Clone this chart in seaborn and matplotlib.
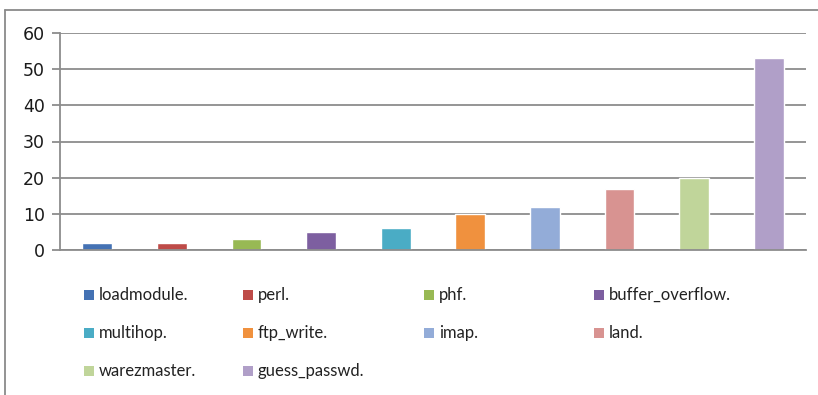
import matplotlib
matplotlib.use("Agg")
import matplotlib.pyplot as plt
from matplotlib.patches import Rectangle
import seaborn as sns
import pandas as pd

categories = ["loadmodule.", "perl.", "phf.", "buffer_overflow.", "multihop.",
              "ftp_write.", "imap.", "land.", "warezmaster.", "guess_passwd."]
counts = [2, 2, 3, 5, 6, 10, 12, 17, 20, 53]
colors = ["#4472B4", "#BE4B48", "#98B954", "#7D5FA0", "#4AACC5",
          "#F0913E", "#93ACD8", "#D89391", "#C0D59A", "#B09FC8"]
yticks = [0, 10, 20, 30, 40, 50, 60]

df = pd.DataFrame({"attack": categories, "count": counts})

sns.set_theme(style="white")
plt.rcParams["font.family"] = ["DejaVu Sans"]

W, H = 818, 395
fig = plt.figure(figsize=(W / 100, H / 100), dpi=100)
fig.patch.set_facecolor("white")

# outer chart frame (left and top edges visible)
fig.add_artist(plt.Line2D([5 / W, 5 / W], [0, 1 - 10 / H], transform=fig.transFigure,
                          color="#8a8a8a", lw=1.3))
fig.add_artist(plt.Line2D([5 / W, 1], [1 - 10 / H, 1 - 10 / H], transform=fig.transFigure,
                          color="#8a8a8a", lw=1.3))

ax = fig.add_axes([60 / W, 1 - 250 / H, (806 - 60) / W, (250 - 33) / H])
sns.barplot(data=df, x="attack", y="count", hue="attack", palette=colors,
            width=0.4, legend=False, ax=ax, saturation=1)

ax.set_ylim(0, 60)
ax.set_xlim(-0.5, len(categories) - 0.5)
ax.set_yticks(yticks)
ax.set_yticklabels([str(v) for v in yticks], fontsize=12.5, color="#1a1a1a")
ax.set_xticks([])
ax.set_xlabel("")
ax.set_ylabel("")
ax.yaxis.grid(True, color="#8c8c8c", lw=1.3)
ax.set_axisbelow(True)
for s in ["top", "right"]:
    ax.spines[s].set_visible(False)
ax.spines["left"].set_color("#8c8c8c")
ax.spines["left"].set_linewidth(1.3)
ax.spines["bottom"].set_color("#8c8c8c")
ax.spines["bottom"].set_linewidth(1.3)
ax.tick_params(axis="y", which="major", left=True, direction="out", length=6,
               width=1.3, color="#8c8c8c", pad=5)
ax.set_facecolor("white")

# legend laid out in four columns below the plot
col_x = [84, 243, 424, 594]
row_y = [295, 333, 371]
for i, (name, c) in enumerate(zip(categories, colors)):
    r, k = divmod(i, 4)
    x0, y0 = col_x[k], row_y[r]
    fig.add_artist(Rectangle((x0 / W, 1 - (y0 + 5) / H), 10 / W, 10 / H,
                             transform=fig.transFigure, color=c, lw=0))
    fig.text((x0 + 15) / W, 1 - y0 / H, name, fontsize=12, family=["Lato", "DejaVu Sans"],
             color="#222222", va="center", ha="left")

fig.savefig("out.png", dpi=100, facecolor="white")
